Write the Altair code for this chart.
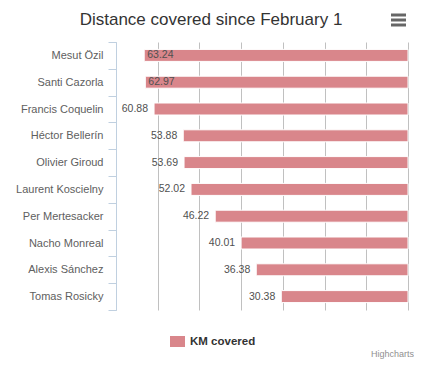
import altair as alt
import pandas as pd

players = ["Mesut Özil", "Santi Cazorla", "Francis Coquelin", "Héctor Bellerín",
           "Olivier Giroud", "Laurent Koscielny", "Per Mertesacker", "Nacho Monreal",
           "Alexis Sánchez", "Tomas Rosicky"]
km = [63.24, 62.97, 60.88, 53.88, 53.69, 52.02, 46.22, 40.01, 36.38, 30.38]
series_name = "KM covered"
x_ticks = [0, 10, 20, 30, 40, 50, 60, 70]

df = pd.DataFrame({"player": players, "km": km, "series": [series_name] * len(players)})

FONT = "Liberation Sans"
BAR = "#d9868b"

base = alt.Chart(df)

y_enc = alt.Y("player:N", sort=None, title=None,
              scale=alt.Scale(paddingInner=0, paddingOuter=0),
              axis=alt.Axis(tickBand="extent", tickSize=8, tickColor="#C0D0E0",
                            domainColor="#C0D0E0", labelPadding=5,
                            labelFont=FONT, labelFontSize=11, labelColor="#606060",
                            grid=False))
x_enc = alt.X("km:Q", title=None,
              scale=alt.Scale(domain=[0, 70], reverse=True, nice=False),
              axis=alt.Axis(values=x_ticks, labels=False, ticks=False, domain=False,
                            grid=True, gridColor="#C0C0C0", gridWidth=1))

bars = base.mark_bar(size=12, stroke="white", strokeWidth=1).encode(
    y=y_enc, x=x_enc,
    color=alt.Color("series:N", scale=alt.Scale(range=[BAR]),
                    legend=alt.Legend(title=None, orient="none", legendX=54, legendY=292,
                                      symbolType="M-1,-0.733L1,-0.733L1,0.733L-1,0.733Z",
                                      symbolSize=225, symbolStrokeWidth=0, symbolOpacity=1,
                                      labelFont=FONT, labelFontSize=11.5, labelFontWeight="bold",
                                      labelColor="#333333", padding=0, labelOffset=5)),
)

lab_out = base.transform_filter("datum.km < 62").mark_text(
    align="right", baseline="middle", dx=-6, font=FONT, fontSize=10.5, color="#505050"
).encode(y=alt.Y("player:N", sort=None), x=alt.X("km:Q"), text=alt.Text("km:Q", format=".2f"))

lab_in = base.transform_filter("datum.km >= 62").mark_text(
    align="left", baseline="middle", dx=3, font=FONT, fontSize=10.5, color="#505050"
).encode(y=alt.Y("player:N", sort=None), x=alt.X("km:Q"), text=alt.Text("km:Q", format=".2f"))

title_txt = alt.Chart(pd.DataFrame({"t": ["Distance covered since February 1"]})).mark_text(
    align="center", baseline="alphabetic", font=FONT, fontSize=17, color="#333333"
).encode(text="t:N", x=alt.value(95), y=alt.value(-17))

credit = alt.Chart(pd.DataFrame({"t": ["Highcharts"]})).mark_text(
    align="right", baseline="alphabetic", font=FONT, fontSize=9, color="#909090"
).encode(text="t:N", x=alt.value(298), y=alt.value(315))

menu = alt.layer(*[
    alt.Chart(pd.DataFrame({"a": [0]})).mark_rule(color="#666666", strokeWidth=3).encode(
        x=alt.value(275), x2=alt.value(290), y=alt.value(yv))
    for yv in (-27, -22, -17)
])

chart = alt.layer(bars, lab_out, lab_in, title_txt, credit, menu).properties(
    width=292, height=268,
    autosize=alt.AutoSizeParams(type="none"),
    padding={"left": 108, "top": 34, "right": 6, "bottom": 49},
).configure_view(stroke=None)

chart.save("out.html", embed_options={"renderer": "svg", "actions": False})
